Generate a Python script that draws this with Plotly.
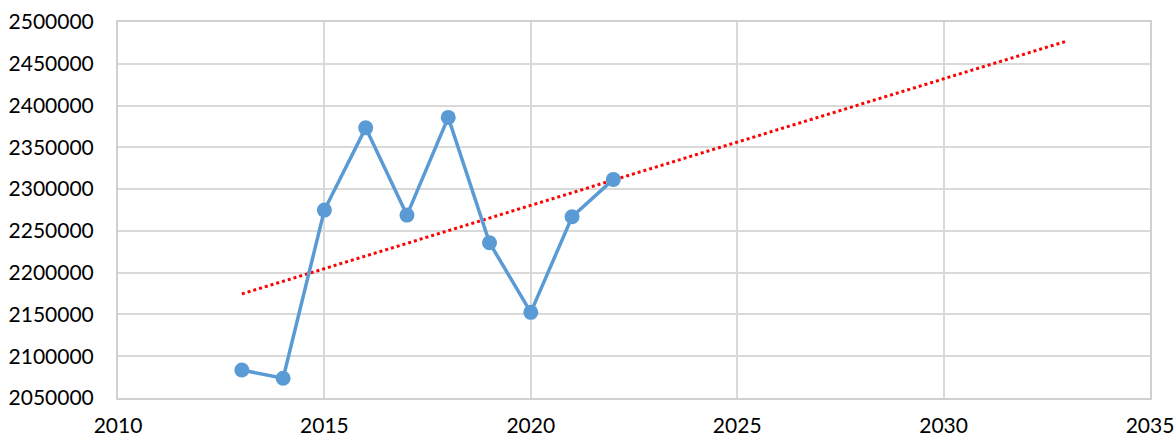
import numpy as np
import plotly.graph_objects as go

years = [2013, 2014, 2015, 2016, 2017, 2018, 2019, 2020, 2021, 2022]
values = [2083500, 2073600, 2274900, 2373300, 2268900, 2385800, 2235800, 2152500, 2266900, 2311600]
trend_years = [2013, 2033]
x_ticks = [2010, 2015, 2020, 2025, 2030, 2035]
y_ticks = [2050000, 2100000, 2150000, 2200000, 2250000, 2300000, 2350000, 2400000, 2450000, 2500000]

# Linear trendline (least squares) extended forward, as in the original chart
slope, intercept = np.polyfit(years, values, 1)
trend_values = [slope * x + intercept for x in trend_years]

fig = go.Figure()
fig.add_trace(go.Scatter(
    x=trend_years, y=trend_values, mode="lines",
    line=dict(color="#ff0000", width=3, dash="dot"),
    showlegend=False, hoverinfo="skip",
))
fig.add_trace(go.Scatter(
    x=years, y=values, mode="lines+markers",
    line=dict(color="#5b9bd5", width=3.5),
    marker=dict(color="#5b9bd5", size=15),
    showlegend=False,
))

font = dict(family="Lato, Open Sans, sans-serif", size=21, color="#000000")
fig.update_layout(
    width=1175, height=437,
    margin=dict(l=118, r=25, t=22, b=39, autoexpand=False),
    paper_bgcolor="white", plot_bgcolor="white",
    font=font,
    xaxis=dict(
        range=[2010, 2035], tickmode="array", tickvals=x_ticks,
        ticktext=[str(v) for v in x_ticks],
        showgrid=True, gridcolor="#d9d9d9", gridwidth=2,
        showline=True, linecolor="#d0d0d0", linewidth=2, mirror=True,
        zeroline=False, ticks="", ticklabelstandoff=8, automargin=False,
    ),
    yaxis=dict(
        range=[2050000, 2500000], tickmode="array", tickvals=y_ticks,
        ticktext=[str(v) for v in y_ticks],
        showgrid=True, gridcolor="#d9d9d9", gridwidth=2,
        showline=True, linecolor="#d0d0d0", linewidth=2, mirror=True,
        zeroline=False, ticks="", ticklabelstandoff=18, automargin=False,
    ),
)

fig.write_html("out.html")
